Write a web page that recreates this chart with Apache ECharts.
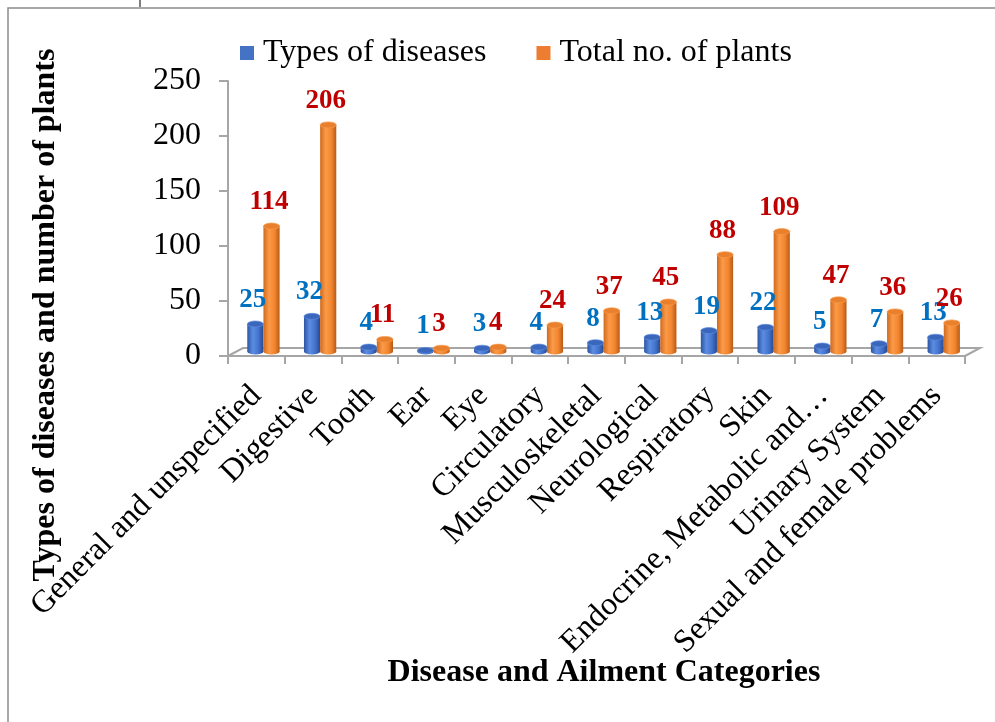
<!DOCTYPE html>
<html>
<head>
<meta charset="utf-8">
<script src="https://cdn.jsdelivr.net/npm/echarts@6/dist/echarts.min.js"></script>
<style>
  html, body { margin: 0; padding: 0; background: #ffffff; }
  #chart { width: 995px; height: 722px; }
</style>
</head>
<body>
<div id="chart"></div>
<script>
// Categories of ailments and the two counted series
const categories = [
  'General and unspecified', 'Digestive', 'Tooth', 'Ear', 'Eye', 'Circulatory',
  'Musculoskeletal', 'Neurological', 'Respiratory', 'Skin',
  'Endocrine, Metabolic and\u2026', 'Urinary System', 'Sexual and female problems'
];
const diseaseTypes = [25, 32, 4, 1, 3, 4, 8, 13, 19, 22, 5, 7, 13];
const plantCounts = [114, 206, 11, 3, 4, 24, 37, 45, 88, 109, 47, 36, 26];
const yTickValues = [0, 50, 100, 150, 200, 250];

const SERIF = "'Liberation Serif', 'Times New Roman', serif";

const chart = echarts.init(document.getElementById('chart'));

// Draw a shaded cylinder (with value label) for one bar of a pair.
function cylinder(side, colors, labelColor) {
  return function (params, api) {
    const i = api.value(0);
    const v = api.value(1);
    const band = api.size([1, 0])[0];
    const w = band * 0.285;
    const depthX = band * 0.125;
    const depthY = 4.5;
    const base = api.coord([i, 0]);
    const top = api.coord([i, v]);
    const cx = base[0] + depthX + side * w / 2;
    const by = base[1] - depthY;
    const ty = top[1] - depthY;
    const r = w / 2;
    const ry = 3;
    const body = new echarts.graphic.LinearGradient(0, 0, 1, 0, [
      { offset: 0, color: colors[0] },
      { offset: 0.35, color: colors[1] },
      { offset: 0.7, color: colors[2] },
      { offset: 1, color: colors[3] }
    ]);
    return {
      type: 'group',
      children: [
        { type: 'rect', shape: { x: cx - r, y: ty, width: w, height: Math.max(by - ty, 0) }, style: { fill: body } },
        { type: 'circle', x: cx, y: by, scaleY: ry / r, shape: { cx: 0, cy: 0, r: r }, style: { fill: body } },
        { type: 'circle', x: cx, y: ty, scaleY: ry / r, shape: { cx: 0, cy: 0, r: r },
          style: { fill: colors[4], stroke: colors[1], lineWidth: 1 } },
        { type: 'text', x: cx - 2.5, y: ty - 24, z2: 100,
          style: { text: String(v), fill: labelColor, font: 'bold 27px ' + SERIF,
                   textAlign: 'center', textVerticalAlign: 'middle' } }
      ]
    };
  };
}

// Receding floor edge behind the category axis
function floor(params, api) {
  const cs = params.coordSys;
  const dx = 15, dy = 8;
  const x0 = cs.x, x1 = cs.x + cs.width, y0 = cs.y + cs.height;
  return {
    type: 'polyline', silent: true,
    shape: { points: [[x0, y0], [x0 + dx, y0 - dy], [x1 + dx, y0 - dy], [x1, y0]] },
    style: { fill: null, stroke: '#a6a6a6', lineWidth: 2 }
  };
}

const option = {
  animation: false,
  backgroundColor: '#ffffff',
  textStyle: { fontFamily: SERIF },
  graphic: [
    { type: 'polyline', shape: { points: [[8, 722], [8, 8], [995, 8]] },
      style: { fill: null, stroke: '#8c8c8c', lineWidth: 1.5 } },
    { type: 'line', shape: { x1: 140, y1: 0, x2: 140, y2: 7 }, style: { stroke: '#555', lineWidth: 1.5 } },
    // Value-axis title, centred lower than the plot area
    { type: 'text', x: 46, y: 315, rotation: Math.PI / 2,
      style: { text: 'Types of diseases and number of plants', fill: '#000',
               font: 'bold 32px ' + SERIF, textAlign: 'center', textVerticalAlign: 'middle' } },
    // Category-axis title
    { type: 'text', x: 604, y: 673,
      style: { text: 'Disease and Ailment Categories', fill: '#000',
               font: 'bold 32px ' + SERIF, textAlign: 'center', textVerticalAlign: 'middle' } }
  ],
  legend: {
    data: ['Types of diseases', 'Total no. of plants'],
    left: 235, top: 32,
    icon: 'rect', itemWidth: 14, itemHeight: 14, itemGap: 50,
    textStyle: { fontSize: 32, color: '#000', fontFamily: SERIF, padding: [0, 0, 0, 4] }
  },
  grid: { left: 228, right: 30, top: 81, bottom: 366, containLabel: false, outerBoundsMode: 'none' },
  xAxis: {
    type: 'category',
    data: categories,
    axisLine: { show: true, lineStyle: { color: '#a6a6a6', width: 2 } },
    axisTick: { show: true, length: 8, lineStyle: { color: '#a6a6a6', width: 2 } },
    axisLabel: { rotate: 45, interval: 0, margin: 35, fontSize: 32, color: '#000', fontFamily: SERIF,
                 hideOverlap: false }
  },
  yAxis: {
    type: 'value',
    min: 0, max: 250, interval: 50,
    splitLine: { show: false },
    axisLine: { show: true, lineStyle: { color: '#a6a6a6', width: 2 } },
    axisTick: { show: true, length: 9, lineStyle: { color: '#a6a6a6', width: 2 } },
    axisLabel: {
      margin: 27, fontSize: 32, color: '#000', fontFamily: SERIF,
      formatter: function (val) { return yTickValues.indexOf(val) >= 0 ? String(val) : ''; }
    }
  },
  series: [
    {
      name: 'floor', type: 'custom', silent: true, z: 1,
      data: [[0, 0]], renderItem: floor
    },
    {
      name: 'Types of diseases', type: 'custom',
      itemStyle: { color: '#4472C4' },
      data: diseaseTypes.map((v, i) => [i, v]),
      encode: { x: 0, y: 1 },
      renderItem: cylinder(-1, ['#2c55a3', '#5c8de2', '#4272cc', '#29498f', '#3a66bb'], '#0070C0')
    },
    {
      name: 'Total no. of plants', type: 'custom',
      itemStyle: { color: '#ED7D31' },
      data: plantCounts.map((v, i) => [i, v]),
      encode: { x: 0, y: 1 },
      renderItem: cylinder(1, ['#d06a1e', '#fb9a48', '#f2852f', '#b85a15', '#e8802e'], '#C00000')
    }
  ]
};

chart.setOption(option);
</script>
</body>
</html>
